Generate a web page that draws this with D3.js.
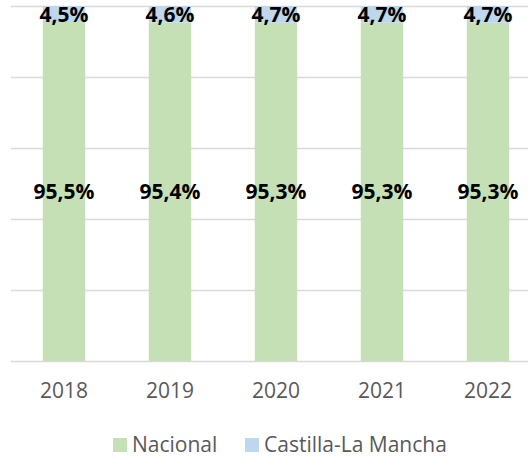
<!DOCTYPE html>
<html>
<head>
<meta charset="utf-8">
<script src="https://cdn.jsdelivr.net/npm/d3@7"></script>
<style>
  body { margin: 0; background: #fff; }
  text { font-family: "Open Sans", sans-serif; }
</style>
</head>
<body>
<div id="chart-area"></div>
<script>
var years = ["2018", "2019", "2020", "2021", "2022"];
var nacional = [95.5, 95.4, 95.3, 95.3, 95.3];
var clm = [4.5, 4.6, 4.7, 4.7, 4.7];
var seriesNames = ["Nacional", "Castilla-La Mancha"];
var colors = ["#C5E0B4", "#BDD7EE"];
var yTicks = [0, 20, 40, 60, 80, 100];

var width = 528, height = 457;

var svg = d3.select("#chart-area")
    .append("svg")
    .attr("width", width)
    .attr("height", height);

var x = d3.scaleBand()
    .domain(years)
    .range([11, 541])
    .paddingInner(0.6)
    .paddingOuter(0.3);

var y = d3.scaleLinear()
    .domain([0, 100])
    .range([361, 6]);

// gridlines
svg.append("g")
    .selectAll("line")
    .data(yTicks)
    .enter()
    .append("line")
    .attr("x1", 11)
    .attr("x2", width)
    .attr("y1", function(d){ return y(d) + 0.5; })
    .attr("y2", function(d){ return y(d) + 0.5; })
    .attr("stroke", "#D9D9D9")
    .attr("stroke-width", 1.3);

var table = years.map(function(yr, i){
    return { year: yr, "Nacional": nacional[i], "Castilla-La Mancha": clm[i] };
});

var stack = d3.stack().keys(seriesNames)(table);

var layers = svg.selectAll(".layer")
    .data(stack)
    .enter()
    .append("g")
    .attr("class", "layer")
    .style("fill", function(d, i){ return colors[i]; });

layers.selectAll("rect")
    .data(function(d){ return d; })
    .enter()
    .append("rect")
    .attr("x", function(d){ return x(d.data.year); })
    .attr("y", function(d){ return y(d[1]); })
    .attr("width", x.bandwidth())
    .attr("height", function(d){ return y(d[0]) - y(d[1]); });

// data labels
var fmt = function(v){ return v.toFixed(1).replace(".", ",") + "%"; };
stack.forEach(function(layer){
    svg.append("g")
        .selectAll("text")
        .data(layer)
        .enter()
        .append("text")
        .attr("x", function(d){ return x(d.data.year) + x.bandwidth() / 2; })
        .attr("y", function(d){ return (y(d[0]) + y(d[1])) / 2; })
        .attr("dy", "0.36em")
        .attr("text-anchor", "middle")
        .attr("font-size", "21px")
        .attr("font-weight", "bold")
        .attr("fill", "#000")
        .text(function(d){ return fmt(d[1] - d[0]); });
});

// x axis
var xAxis = svg.append("g")
    .attr("transform", "translate(0,361)")
    .call(d3.axisBottom(x).tickSize(0).tickPadding(22));
xAxis.select(".domain").remove();
xAxis.selectAll("text")
    .attr("font-size", "21px")
    .attr("font-family", "Open Sans, sans-serif")
    .attr("fill", "#595959");

// legend
var legendX = [113, 245];
var legend = svg.append("g")
    .selectAll("g")
    .data(seriesNames)
    .enter()
    .append("g")
    .attr("transform", function(d, i){ return "translate(" + legendX[i] + ",438)"; });
legend.append("rect")
    .attr("width", 14)
    .attr("height", 14)
    .attr("fill", function(d, i){ return colors[i]; });
legend.append("text")
    .attr("x", 19)
    .attr("y", 14)
    .attr("font-size", "21px")
    .attr("fill", "#595959")
    .text(function(d){ return d; });
</script>
</body>
</html>
